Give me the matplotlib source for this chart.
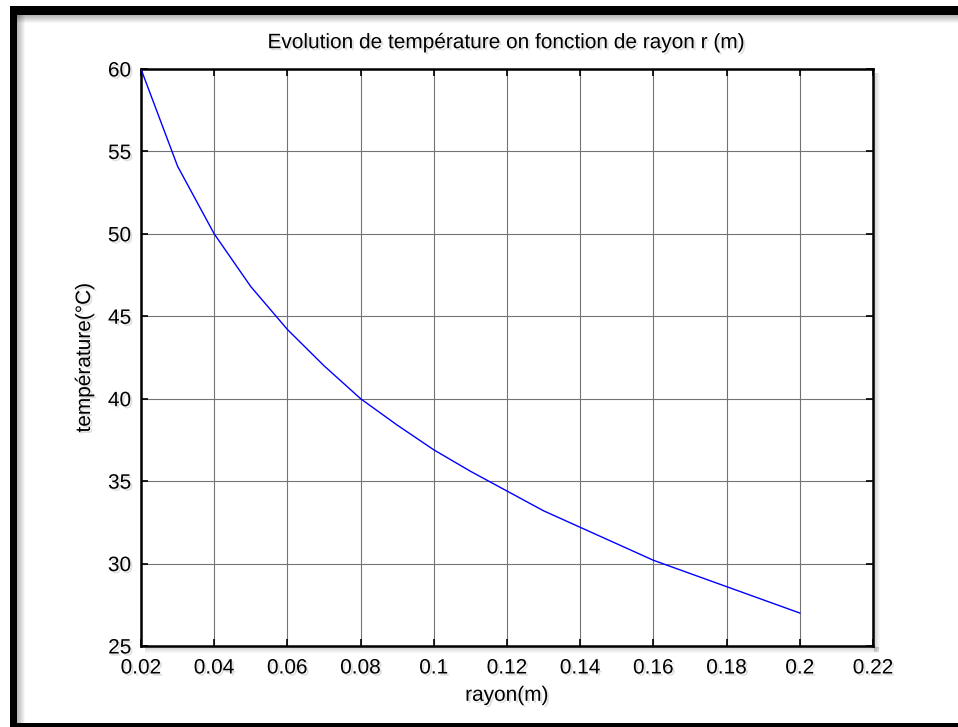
import matplotlib
matplotlib.use("Agg")
import matplotlib.pyplot as plt
import matplotlib.patheffects as pe
from matplotlib.patches import Rectangle

# Data
rayon = [0.02, 0.03, 0.04, 0.05, 0.06, 0.07, 0.08, 0.09, 0.10, 0.11,
         0.12, 0.13, 0.14, 0.15, 0.16, 0.17, 0.18, 0.19, 0.20]
temperature = [60.0, 54.1, 50.0, 46.8, 44.2, 42.0, 40.0, 38.4, 36.9, 35.6,
               34.4, 33.2, 32.2, 31.2, 30.2, 29.4, 28.6, 27.8, 27.0]
xticks = [0.02, 0.04, 0.06, 0.08, 0.10, 0.12, 0.14, 0.16, 0.18, 0.20, 0.22]
xticklabels = ["0.02", "0.04", "0.06", "0.08", "0.1", "0.12", "0.14",
               "0.16", "0.18", "0.2", "0.22"]
yticks = [25, 30, 35, 40, 45, 50, 55, 60]
title = "Evolution de température on fonction de rayon r (m)"
xlabel = "rayon(m)"
ylabel = "température(°C)"

plt.rcParams['font.family'] = ['Liberation Sans', 'DejaVu Sans']

W, H = 958, 727
fig = plt.figure(figsize=(W / 100, H / 100), dpi=100)
fig.patch.set_facecolor("white")

def px_rect(x0, y0, x1, y1, **kw):
    # pixel coordinates, y from top
    fig.patches.append(Rectangle((x0 / W, 1 - y1 / H), (x1 - x0) / W, (y1 - y0) / H,
                                 transform=fig.transFigure, figure=fig, **kw))

# inner shadow gradients of the frame
for i in range(8):
    a = 0.28 * (1 - i / 8)
    px_rect(17, 15 + i, W, 16 + i, facecolor=(0, 0, 0, a), edgecolor="none", zorder=0)
    px_rect(17 + i, 15, 18 + i, 723, facecolor=(0, 0, 0, a), edgecolor="none", zorder=0)
# black frame
px_rect(10, 6, W, 15, facecolor="black", edgecolor="none", zorder=1)
px_rect(10, 6, 17, H, facecolor="black", edgecolor="none", zorder=1)
px_rect(10, 723, W, H, facecolor="black", edgecolor="none", zorder=1)

L, T, R, B = 141, 69, 873, 646
# axes drop shadow
for i in range(6):
    a = 0.18 * (1 - i / 6)
    px_rect(R + 1 + i, T + 4, R + 2 + i, B + 6, facecolor=(0, 0, 0, a), edgecolor="none", zorder=0)
    px_rect(L + 4, B + 1 + i, R + 6, B + 2 + i, facecolor=(0, 0, 0, a), edgecolor="none", zorder=0)

ax = fig.add_axes([L / W, 1 - B / H, (R - L) / W, (B - T) / H])
ax.plot(rayon, temperature, color=(0, 0, 1), linewidth=1.0, zorder=3)
ax.set_xlim(0.02, 0.22)
ax.set_ylim(25, 60)
ax.set_xticks(xticks)
ax.set_xticklabels(xticklabels)
ax.set_yticks(yticks)
ax.grid(True, color=(0.45, 0.45, 0.45), linewidth=0.8, linestyle="-")
ax.set_axisbelow(True)
for s in ax.spines.values():
    s.set_linewidth(1.8)
    s.set_color("black")
ax.tick_params(direction="in", top=True, right=True, length=5, width=1.2,
               labelsize=15, colors="black")
ax.tick_params(axis="x", pad=9)
ax.tick_params(axis="y", pad=7)

shadow = [pe.withSimplePatchShadow(offset=(1.5, -1.5), shadow_rgbFace=(0.5, 0.5, 0.5), alpha=0.25)]
ax.set_title(title, fontsize=15, pad=15, path_effects=shadow)
ax.set_xlabel(xlabel, fontsize=15, labelpad=6, path_effects=shadow)
ax.set_ylabel(ylabel, fontsize=15, labelpad=10, path_effects=shadow)
for lab in ax.get_xticklabels() + ax.get_yticklabels():
    lab.set_path_effects(shadow)

fig.savefig("out.png", dpi=100)
